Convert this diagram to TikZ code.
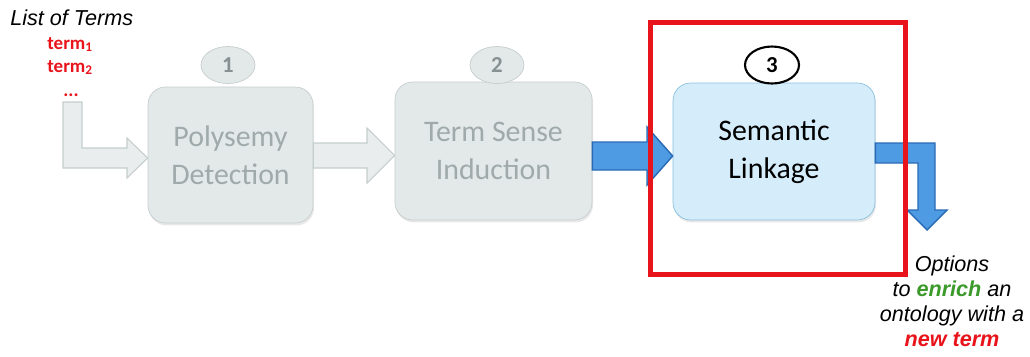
\documentclass[tikz,border=0pt]{standalone}
\usepackage{fontspec}
\setmainfont{Liberation Sans}
\newfontfamily\calib{Carlito}
\usepackage{xcolor}
\usetikzlibrary{shapes,arrows,positioning,calc,shadows}

\definecolor{stagefill}{HTML}{E3E9E9}
\definecolor{stageline}{HTML}{C5CDCD}
\definecolor{stagetext}{HTML}{A0AAAA}
\definecolor{linkfill}{HTML}{D5EDFA}
\definecolor{linkline}{HTML}{88BFDF}
\definecolor{flowfill}{HTML}{4F9BE3}
\definecolor{flowline}{HTML}{2A6AB5}
\definecolor{markred}{HTML}{E8131B}
\definecolor{enrichgreen}{HTML}{3C9A2B}

\begin{document}
\begin{tikzpicture}[x=0.02cm, y=-0.02cm,
    stage/.style={draw=stageline, fill=stagefill, rounded corners=10pt, inner sep=0pt,
        align=center, text=stagetext, font=\calib\fontsize{17}{21.5}\selectfont,
        drop shadow={opacity=0.18, shadow xshift=0.6pt, shadow yshift=-1.4pt}},
    badge/.style={ellipse, draw=stageline, fill=stagefill, inner sep=0pt,
        minimum width=1.08cm, minimum height=0.74cm, text=stagetext!85!black, font=\calib\bfseries\fontsize{13}{15}\selectfont},
    greyarrow/.style={draw=stageline, fill=stagefill!80, line width=0.6pt, line join=miter},
    bluearrow/.style={draw=flowline, fill=flowfill, line width=0.8pt, line join=miter},
    termtxt/.style={inner sep=0pt, text=markred, font=\calib\bfseries\fontsize{10.8}{12}\selectfont}]
    \useasboundingbox (0,0) rectangle (1030,356);

    % Input
    \node[anchor=west, inner sep=0pt, font=\itshape\fontsize{12.3}{14}\selectfont] (list) at (10,18) {List of Terms};
    \node[termtxt, anchor=base west] (t1) at (47,49) {term\textsubscript{1}};
    \node[termtxt, anchor=base west] (t2) at (47,72) {term\textsubscript{2}};
    \node[termtxt, anchor=base] (dots) at (71,96) {...};

    % Stages
    \node[stage, minimum width=3.3cm, minimum height=2.72cm] (poly) at (230.5,155) {Polysemy\\Detection};
    \node[stage, minimum width=3.94cm, minimum height=2.76cm] (ind) at (493.5,151) {Term Sense\\Induction};
    \node[stage, draw=linkline, fill=linkfill, text=black, minimum width=4.04cm, minimum height=2.74cm] (link) at (774,151.5) {Semantic\\Linkage};

    % Badges
    \node[badge] (b1) at (228,65) {1};
    \node[badge] (b2) at (497,65) {2};
    \node[badge, draw=black, line width=1.2pt, fill=white, text=black] (b3) at (772,65) {3};

    % Arrows
    \draw[greyarrow] (63,102) -- (82,102) -- (82,148) -- (127,148) -- (127,138) -- (poly.west |- 0,158)
        -- (127,178) -- (127,168) -- (63,168) -- cycle;
    \draw[greyarrow] (poly.east |- 0,143) -- (367,143) -- (367,128) -- (ind.west |- 0,155.5)
        -- (367,183) -- (367,168) -- (poly.east |- 0,168) -- cycle;
    \draw[bluearrow] (ind.east |- 0,142) -- (647,142) -- (647,127) -- (link.west |- 0,156)
        -- (647,185) -- (647,170) -- (ind.east |- 0,170) -- cycle;
    \coordinate (out) at (927,230);
    \draw[bluearrow] (link.east |- 0,143) -- (935,143) -- (935,210) -- (947,210) -- (out)
        -- (907,210) -- (918,210) -- (918,163) -- (link.east |- 0,163) -- cycle;

    % Focus frame
    \draw[markred, line width=2.8pt] (650.5,22.5) rectangle (905.5,274.5);

    % Output
    \node[align=center, inner sep=0pt, font=\itshape\fontsize{12.3}{14.2}\selectfont] (opts) at (952,301)
        {Options\\to \textcolor{enrichgreen}{\textbf{enrich}} an\\ontology with a\\\textcolor{markred}{\textbf{new term}}};
\end{tikzpicture}
\end{document}
